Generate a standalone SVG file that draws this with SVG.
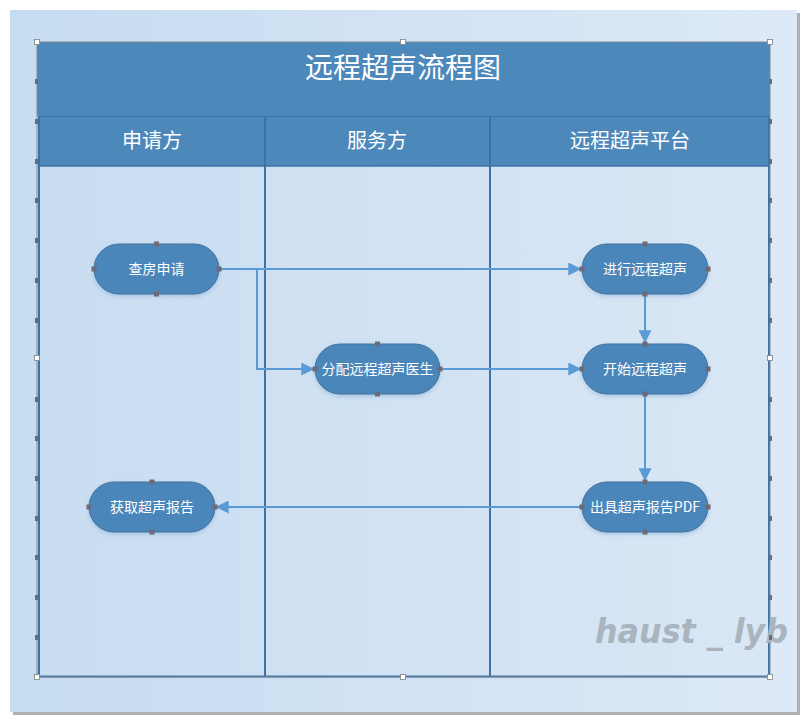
<svg xmlns="http://www.w3.org/2000/svg" width="808" height="723" viewBox="0 0 808 723">
<defs>
<linearGradient id="pageG" x1="0" y1="0" x2="1" y2="0">
<stop offset="0" stop-color="#c6dcf1"/><stop offset="1" stop-color="#dde9f6"/>
</linearGradient>
<linearGradient id="laneG" x1="0" y1="0" x2="1" y2="0">
<stop offset="0" stop-color="#c9ddf1"/><stop offset="1" stop-color="#d9e7f5"/>
</linearGradient>
<filter id="sh" x="-20%" y="-20%" width="140%" height="150%">
<feDropShadow dx="0" dy="2" stdDeviation="2" flood-color="#5b8ec0" flood-opacity="0.35"/>
</filter>
<marker id="arr" viewBox="0 0 10 10" refX="9" refY="5" markerWidth="13" markerHeight="13" markerUnits="userSpaceOnUse" orient="auto">
<path d="M0,0 L10,5 L0,10 z" fill="#5b9bd5"/>
</marker>
<style>
.node rect.b{fill:#4b86ba;stroke:#41719c;stroke-width:1;filter:url(#sh)}
.node text{font-family:"Noto Sans CJK SC","Noto Sans",sans-serif;font-size:14px;fill:#ffffff;text-anchor:middle}
.cp{fill:#6a6a78}
.hd{font-family:"Noto Sans CJK SC","Noto Sans",sans-serif;fill:#ffffff;text-anchor:middle}
.edge{fill:none;stroke:#5b9bd5;stroke-width:2}
.fd{fill:#6a6a78}
.hn{fill:#ffffff;stroke:#808080;stroke-width:0.8}
.lane{stroke:#3e72a5;stroke-width:2}
</style>
</defs>
<rect x="13" y="13" width="787" height="702" fill="#7a7a7a" opacity="0.6"/>
<rect x="10" y="10" width="787" height="702" fill="url(#pageG)"/>

<g id="pool">
<rect x="37" y="42" width="733" height="635" fill="url(#laneG)"/>
<rect x="37" y="42" width="733" height="74" fill="#4d88bb"/>
<rect x="40" y="116" width="730" height="50" fill="#4d88bb"/>
<line x1="40" y1="116.5" x2="770" y2="116.5" stroke="#3e72a5" stroke-width="1"/>
<line x1="40" y1="166" x2="770" y2="166" stroke="#3e72a5" stroke-width="1.5"/>
<text class="hd" x="403" y="78" font-size="28">远程超声流程图</text>
<text class="hd" x="152" y="148" font-size="20">申请方</text>
<text class="hd" x="377" y="148" font-size="20">服务方</text>
<text class="hd" x="630" y="148" font-size="20">远程超声平台</text>
<line class="lane" x1="39" y1="116" x2="39" y2="677" stroke-width="3"/>
<line class="lane" x1="265" y1="116" x2="265" y2="677"/>
<line class="lane" x1="490" y1="116" x2="490" y2="677"/>
<line class="lane" x1="769" y1="116" x2="769" y2="677" stroke-width="1.5"/>
<line class="lane" x1="37" y1="676.5" x2="770" y2="676.5"/>
<rect x="37" y="42" width="733" height="635" fill="none" stroke="#7f8a96" stroke-width="1"/>
</g>

<g id="watermark">
<text x="595" y="643" font-family="DejaVu Sans" font-style="italic" font-weight="bold" font-size="34" fill="#a9b4bf" textLength="193" lengthAdjust="spacingAndGlyphs">haust _ lyb</text>
</g>

<g id="connectors">
<path class="edge" d="M219,269 L580,269" marker-end="url(#arr)"/>
<path class="edge" d="M219,269 L257,269 L257,369 L313,369" marker-end="url(#arr)"/>
<path class="edge" d="M440,369 L580,369" marker-end="url(#arr)"/>
<path class="edge" d="M645,294 L645,342" marker-end="url(#arr)"/>
<path class="edge" d="M645,394 L645,480" marker-end="url(#arr)"/>
<path class="edge" d="M582,507 L217,507" marker-end="url(#arr)"/>
</g>

<g id="n1" class="node">
<rect class="b" x="94" y="244" width="125" height="50" rx="25"/>
<text x="156.5" y="274">查房申请</text>
<rect class="cp" x="154" y="241.5" width="5" height="5"/><rect class="cp" x="154" y="291.5" width="5" height="5"/>
<rect class="cp" x="91.5" y="266.5" width="5" height="5"/><rect class="cp" x="216.5" y="266.5" width="5" height="5"/>
</g>
<g id="n2" class="node">
<rect class="b" x="582" y="244" width="126" height="50" rx="25"/>
<text x="645" y="274">进行远程超声</text>
<rect class="cp" x="642.5" y="241.5" width="5" height="5"/><rect class="cp" x="642.5" y="291.5" width="5" height="5"/>
<rect class="cp" x="579.5" y="266.5" width="5" height="5"/><rect class="cp" x="705.5" y="266.5" width="5" height="5"/>
</g>
<g id="n3" class="node">
<rect class="b" x="315" y="344" width="125" height="50" rx="25"/>
<text x="377.5" y="374">分配远程超声医生</text>
<rect class="cp" x="375" y="341.5" width="5" height="5"/><rect class="cp" x="375" y="391.5" width="5" height="5"/>
<rect class="cp" x="312.5" y="366.5" width="5" height="5"/><rect class="cp" x="437.5" y="366.5" width="5" height="5"/>
</g>
<g id="n4" class="node">
<rect class="b" x="582" y="344" width="126" height="50" rx="25"/>
<text x="645" y="374">开始远程超声</text>
<rect class="cp" x="642.5" y="341.5" width="5" height="5"/><rect class="cp" x="642.5" y="391.5" width="5" height="5"/>
<rect class="cp" x="579.5" y="366.5" width="5" height="5"/><rect class="cp" x="705.5" y="366.5" width="5" height="5"/>
</g>
<g id="n5" class="node">
<rect class="b" x="582" y="482" width="126" height="50" rx="25"/>
<text x="645" y="512">出具超声报告PDF</text>
<rect class="cp" x="642.5" y="479.5" width="5" height="5"/><rect class="cp" x="642.5" y="529.5" width="5" height="5"/>
<rect class="cp" x="579.5" y="504.5" width="5" height="5"/><rect class="cp" x="705.5" y="504.5" width="5" height="5"/>
</g>
<g id="n6" class="node">
<rect class="b" x="89" y="482" width="126" height="50" rx="25"/>
<text x="152" y="512">获取超声报告</text>
<rect class="cp" x="149.5" y="479.5" width="5" height="5"/><rect class="cp" x="149.5" y="529.5" width="5" height="5"/>
<rect class="cp" x="86.5" y="504.5" width="5" height="5"/><rect class="cp" x="212.5" y="504.5" width="5" height="5"/>
</g>

<g id="handles">
<g class="fd">
<rect x="35" y="79" width="3" height="5"/><rect x="35" y="119" width="3" height="5"/><rect x="35" y="159" width="3" height="5"/><rect x="35" y="198" width="3" height="5"/><rect x="35" y="238" width="3" height="5"/><rect x="35" y="278" width="3" height="5"/><rect x="35" y="318" width="3" height="5"/><rect x="35" y="397" width="3" height="5"/><rect x="35" y="436" width="3" height="5"/><rect x="35" y="476" width="3" height="5"/><rect x="35" y="516" width="3" height="5"/><rect x="35" y="555" width="3" height="5"/><rect x="35" y="595" width="3" height="5"/><rect x="35" y="635" width="3" height="5"/>
<rect x="769" y="79" width="3" height="5"/><rect x="769" y="119" width="3" height="5"/><rect x="769" y="159" width="3" height="5"/><rect x="769" y="198" width="3" height="5"/><rect x="769" y="238" width="3" height="5"/><rect x="769" y="278" width="3" height="5"/><rect x="769" y="318" width="3" height="5"/><rect x="769" y="397" width="3" height="5"/><rect x="769" y="436" width="3" height="5"/><rect x="769" y="476" width="3" height="5"/><rect x="769" y="516" width="3" height="5"/><rect x="769" y="555" width="3" height="5"/><rect x="769" y="595" width="3" height="5"/><rect x="769" y="635" width="3" height="5"/>
</g>
<rect class="hn" x="34.5" y="39.5" width="5" height="5"/><rect class="hn" x="400.5" y="39.5" width="5" height="5"/><rect class="hn" x="767.5" y="39.5" width="5" height="5"/>
<rect class="hn" x="34.5" y="355.5" width="5" height="5"/><rect class="hn" x="767.5" y="355.5" width="5" height="5"/>
<rect class="hn" x="34.5" y="674.5" width="5" height="5"/><rect class="hn" x="400.5" y="674.5" width="5" height="5"/><rect class="hn" x="767.5" y="674.5" width="5" height="5"/>
</g>
</svg>
